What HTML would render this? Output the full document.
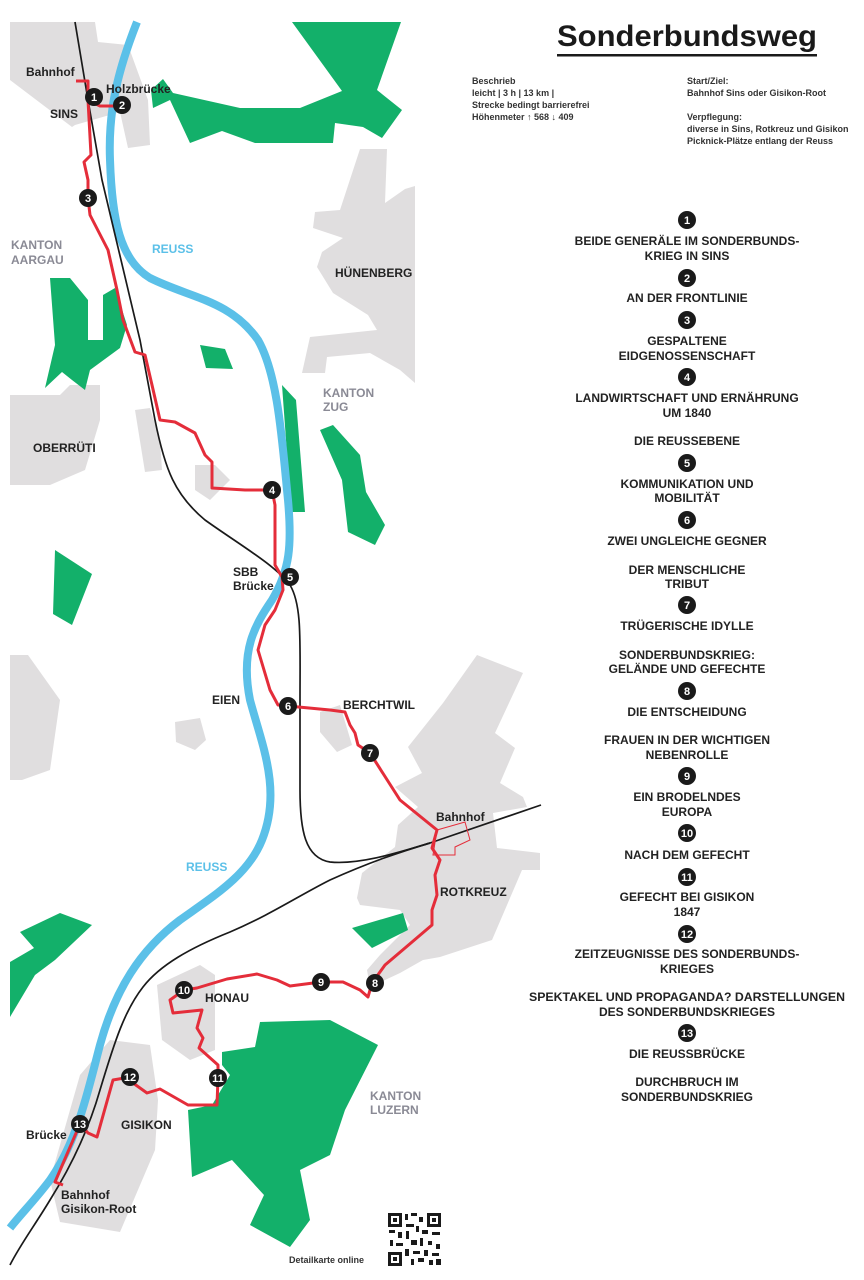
<!DOCTYPE html>
<html><head><meta charset="utf-8"><style>
html,body{margin:0;padding:0;background:#fff}
svg{display:block}
text{font-family:"Liberation Sans",sans-serif;font-weight:bold}
.lb{font-size:12px;fill:#222}
.gy{font-size:12px;fill:#8a8a95}
.bl{font-size:12px;fill:#5bc0e8}
.li{font-size:12px;fill:#222;text-anchor:middle}
.sm{font-size:9px;fill:#333}
.n{font-size:11px;fill:#fff;text-anchor:middle}
</style></head><body>
<svg width="864" height="1280" viewBox="0 0 864 1280" xmlns="http://www.w3.org/2000/svg">
<g fill="#e0dedf">
<polygon points="10,22 95,22 98,42 128,45 148,100 150,145 128,148 120,112 75,125 72,127 10,80"/>
<polygon points="360,149 387,149 385,203 405,189 415,186 415,383 400,370 370,353 327,357 325,373 302,373 310,337 377,330 368,315 333,293 317,267 322,252 343,238 313,228 315,212 340,210"/>
<polygon points="10,395 60,395 70,385 100,385 100,420 85,470 50,485 10,485"/>
<polygon points="135,410 150,408 160,440 162,470 145,472"/>
<polygon points="195,465 215,465 230,480 210,500 195,490"/>
<polygon points="10,655 28,655 60,700 50,770 22,780 10,780"/>
<polygon points="175,722 200,718 206,740 195,750 176,742"/>
<polygon points="320,712 340,705 352,745 337,752 320,732"/>
<polygon points="477,655 523,673 495,733 515,748 500,783 523,797 527,807 493,813 497,848 540,853 540,870 522,870 492,940 440,957 423,960 400,973 370,987 367,970 380,955 410,925 400,910 360,905 357,898 362,873 395,847 398,825 418,807 395,787 422,773 408,747 443,703"/>
<polygon points="157,985 200,965 215,975 215,1050 190,1060 162,1040"/>
<polygon points="80,1075 110,1040 150,1045 158,1100 155,1150 120,1232 60,1222 50,1180"/>
</g>
<g fill="#13b06a">
<polygon points="292,22 401,22 377,90 402,110 382,138 363,127 335,123 333,143 255,143 222,131 190,143 170,100 153,108 151,90 163,79 173,93 240,108 300,108 342,91"/>
<polygon points="50,278 70,278 88,300 88,340 103,340 103,295 115,288 127,325 120,348 90,370 85,390 72,380 62,372 45,388 55,345"/>
<polygon points="200,345 225,349 233,369 206,368"/>
<polygon points="282,385 296,400 305,512 290,512 286,440"/>
<polygon points="320,430 333,425 360,455 366,492 385,525 375,545 348,532 342,480"/>
<polygon points="55,550 92,574 72,625 53,614"/>
<polygon points="20,932 60,913 92,925 55,960 35,975 10,1017 10,962 34,948"/>
<polygon points="352,928 403,913 408,930 372,948"/>
<polygon points="222,1052 255,1047 260,1022 330,1020 378,1045 345,1110 330,1155 300,1170 310,1220 290,1247 250,1225 264,1195 232,1160 192,1177 188,1110 212,1105 230,1075 222,1065"/>
</g>
<path d="M137,22 C118,70 108,110 110,160 C112,220 120,260 150,278 C190,298 230,300 258,340 C278,375 282,440 288,500 C292,545 290,570 272,600 C255,625 240,650 250,700 C262,745 282,790 262,840 C248,875 215,895 180,920 C140,950 115,990 100,1045 C88,1090 78,1140 50,1180 C35,1200 20,1215 10,1228" fill="none" stroke="#5bc0e8" stroke-width="8"/>
<g fill="none" stroke="#1a1a1a" stroke-width="1.7">
<path d="M75,22 L88,100 L102,180 L140,340 L155,420 C165,470 175,495 205,520 C240,545 275,565 290,585 C302,605 300,640 300,700 L300,790 C300,830 305,858 330,862 C360,865 400,852 430,843 L541,805"/>
<path d="M430,843 C400,852 370,862 330,880 C300,895 270,915 230,932 C190,948 160,965 143,987 C125,1010 115,1040 100,1090 C90,1125 75,1160 50,1200 C35,1225 20,1245 10,1265"/>
</g>
<g fill="none" stroke="#e42d3a" stroke-width="3" stroke-linejoin="round">
<path d="M76,81 L88,81 L88,100 L100,106 L122,106"/>
<path d="M88,100 L91,155 L84,162 L88,180 L88,198 L90,215 L108,250 L117,290 L123,320 L135,352 L145,355 L152,385 L160,420 L175,422 L195,433 L205,455 L212,462 L212,488 L245,490 L272,490 L275,505 L275,565 L282,577 L283,590 L275,610 L265,625 L258,650 L270,690 L278,705 L288,706 L330,710 L345,712 L350,725 L355,733 L358,745 L370,753 L400,800 L437,830 L432,848 L440,860 L435,875 L437,895 L432,910 L432,925 L405,948 L385,965 L372,983 L368,997 L360,990 L343,982 L321,982 L290,986 L277,980 L257,974 L227,979 L197,988 L184,990 L170,1000 L173,1013 L202,1010 L197,1028 L203,1038 L199,1048 L218,1065 L218,1078 L217,1105 L188,1105 L160,1089 L147,1093 L133,1083 L130,1077 L113,1080 L97,1137 L88,1133 L80,1124 L55,1182 L63,1185"/>
</g>
<polygon points="437,830 465,822 470,840 455,847 455,855 433,855" fill="none" stroke="#e42d3a" stroke-width="1"/>
<g fill="#1a1a1a">
<circle cx="94" cy="97" r="9"/><circle cx="122" cy="105" r="9"/><circle cx="88" cy="198" r="9"/>
<circle cx="272" cy="490" r="9"/><circle cx="290" cy="577" r="9"/><circle cx="288" cy="706" r="9"/>
<circle cx="370" cy="753" r="9"/><circle cx="375" cy="983" r="9"/><circle cx="321" cy="982" r="9"/>
<circle cx="184" cy="990" r="9"/><circle cx="218" cy="1078" r="9"/><circle cx="130" cy="1077" r="9"/>
<circle cx="80" cy="1124" r="9"/>
</g>
<text class="n" x="94" y="101">1</text><text class="n" x="122" y="109">2</text><text class="n" x="88" y="202">3</text>
<text class="n" x="272" y="494">4</text><text class="n" x="290" y="581">5</text><text class="n" x="288" y="710">6</text>
<text class="n" x="370" y="757">7</text><text class="n" x="375" y="987">8</text><text class="n" x="321" y="986">9</text>
<text class="n" x="184" y="994">10</text><text class="n" x="218" y="1082">11</text><text class="n" x="130" y="1081">12</text>
<text class="n" x="80" y="1128">13</text>
<text class="lb" x="26" y="76">Bahnhof</text>
<text class="lb" x="106" y="93">Holzbrücke</text>
<text class="lb" x="50" y="118">SINS</text>
<text class="gy" x="11" y="249">KANTON</text><text class="gy" x="11" y="264">AARGAU</text>
<text class="bl" x="152" y="253">REUSS</text>
<text class="lb" x="335" y="277">HÜNENBERG</text>
<text class="gy" x="323" y="397">KANTON</text><text class="gy" x="323" y="411">ZUG</text>
<text class="lb" x="33" y="452">OBERRÜTI</text>
<text class="lb" x="233" y="576">SBB</text><text class="lb" x="233" y="590">Brücke</text>
<text class="lb" x="212" y="704">EIEN</text>
<text class="lb" x="343" y="709">BERCHTWIL</text>
<text class="lb" x="436" y="821">Bahnhof</text>
<text class="lb" x="440" y="896">ROTKREUZ</text>
<text class="bl" x="186" y="871">REUSS</text>
<text class="lb" x="205" y="1002">HONAU</text>
<text class="lb" x="121" y="1129">GISIKON</text>
<text class="lb" x="26" y="1139">Brücke</text>
<text class="lb" x="61" y="1199">Bahnhof</text><text class="lb" x="61" y="1213">Gisikon-Root</text>
<text class="gy" x="370" y="1100">KANTON</text><text class="gy" x="370" y="1114">LUZERN</text>
<text class="sm" x="289" y="1263">Detailkarte online</text>
<g fill="#1a1a1a">
<rect x="388" y="1213" width="53" height="53" fill="#fff"/>
<rect x="388" y="1213" width="14" height="14"/><rect x="391" y="1216" width="8" height="8" fill="#fff"/><rect x="393" y="1218" width="4" height="4"/>
<rect x="427" y="1213" width="14" height="14"/><rect x="430" y="1216" width="8" height="8" fill="#fff"/><rect x="432" y="1218" width="4" height="4"/>
<rect x="388" y="1252" width="14" height="14"/><rect x="391" y="1255" width="8" height="8" fill="#fff"/><rect x="393" y="1257" width="4" height="4"/>
<rect x="405" y="1214" width="3" height="6"/><rect x="411" y="1213" width="6" height="3"/><rect x="419" y="1217" width="4" height="5"/>
<rect x="406" y="1224" width="8" height="3"/><rect x="416" y="1226" width="3" height="6"/><rect x="389" y="1230" width="6" height="3"/>
<rect x="398" y="1232" width="4" height="6"/><rect x="406" y="1231" width="3" height="8"/><rect x="422" y="1230" width="6" height="4"/>
<rect x="432" y="1232" width="8" height="3"/><rect x="390" y="1240" width="3" height="6"/><rect x="396" y="1243" width="7" height="3"/>
<rect x="411" y="1240" width="6" height="5"/><rect x="420" y="1238" width="3" height="8"/><rect x="428" y="1241" width="4" height="4"/>
<rect x="436" y="1244" width="4" height="5"/><rect x="405" y="1249" width="4" height="7"/><rect x="413" y="1251" width="7" height="3"/>
<rect x="424" y="1250" width="4" height="6"/><rect x="432" y="1253" width="7" height="3"/><rect x="411" y="1259" width="3" height="6"/>
<rect x="418" y="1258" width="6" height="4"/><rect x="429" y="1260" width="4" height="5"/><rect x="436" y="1259" width="5" height="6"/>
</g>
<text x="557" y="46" style="font-size:30px;fill:#1a1a1a" textLength="260" lengthAdjust="spacingAndGlyphs">Sonderbundsweg</text>
<rect x="557" y="54" width="260" height="2.5" fill="#1a1a1a"/>
<text class="sm" x="472" y="84">Beschrieb</text>
<text class="sm" x="472" y="96">leicht | 3 h | 13 km |</text>
<text class="sm" x="472" y="108">Strecke bedingt barrierefrei</text>
<text class="sm" x="472" y="120">Höhenmeter ↑ 568 ↓ 409</text>
<text class="sm" x="687" y="84">Start/Ziel:</text>
<text class="sm" x="687" y="96">Bahnhof Sins oder Gisikon-Root</text>
<text class="sm" x="687" y="120">Verpflegung:</text>
<text class="sm" x="687" y="132">diverse in Sins, Rotkreuz und Gisikon</text>
<text class="sm" x="687" y="144">Picknick-Plätze entlang der Reuss</text>
<g fill="#1a1a1a">
<circle cx="687" cy="220" r="9"/><circle cx="687" cy="278" r="9"/><circle cx="687" cy="320" r="9"/>
<circle cx="687" cy="377" r="9"/><circle cx="687" cy="463" r="9"/><circle cx="687" cy="520" r="9"/>
<circle cx="687" cy="605" r="9"/><circle cx="687" cy="691" r="9"/><circle cx="687" cy="776" r="9"/>
<circle cx="687" cy="833" r="9"/><circle cx="687" cy="877" r="9"/><circle cx="687" cy="934" r="9"/>
<circle cx="687" cy="1033" r="9"/>
</g>
<text class="n" x="687" y="224">1</text><text class="n" x="687" y="282">2</text><text class="n" x="687" y="324">3</text>
<text class="n" x="687" y="381">4</text><text class="n" x="687" y="467">5</text><text class="n" x="687" y="524">6</text>
<text class="n" x="687" y="609">7</text><text class="n" x="687" y="695">8</text><text class="n" x="687" y="780">9</text>
<text class="n" x="687" y="837">10</text><text class="n" x="687" y="881">11</text><text class="n" x="687" y="938">12</text>
<text class="n" x="687" y="1037">13</text>
<text class="li" x="687" y="245">BEIDE GENERÄLE IM SONDERBUNDS-</text>
<text class="li" x="687" y="260">KRIEG IN SINS</text>
<text class="li" x="687" y="302">AN DER FRONTLINIE</text>
<text class="li" x="687" y="345">GESPALTENE</text>
<text class="li" x="687" y="360">EIDGENOSSENSCHAFT</text>
<text class="li" x="687" y="402">LANDWIRTSCHAFT UND ERNÄHRUNG</text>
<text class="li" x="687" y="417">UM 1840</text>
<text class="li" x="687" y="445">DIE REUSSEBENE</text>
<text class="li" x="687" y="488">KOMMUNIKATION UND</text>
<text class="li" x="687" y="502">MOBILITÄT</text>
<text class="li" x="687" y="545">ZWEI UNGLEICHE GEGNER</text>
<text class="li" x="687" y="574">DER MENSCHLICHE</text>
<text class="li" x="687" y="588">TRIBUT</text>
<text class="li" x="687" y="630">TRÜGERISCHE IDYLLE</text>
<text class="li" x="687" y="659">SONDERBUNDSKRIEG:</text>
<text class="li" x="687" y="673">GELÄNDE UND GEFECHTE</text>
<text class="li" x="687" y="716">DIE ENTSCHEIDUNG</text>
<text class="li" x="687" y="744">FRAUEN IN DER WICHTIGEN</text>
<text class="li" x="687" y="759">NEBENROLLE</text>
<text class="li" x="687" y="801">EIN BRODELNDES</text>
<text class="li" x="687" y="816">EUROPA</text>
<text class="li" x="687" y="859">NACH DEM GEFECHT</text>
<text class="li" x="687" y="901">GEFECHT BEI GISIKON</text>
<text class="li" x="687" y="916">1847</text>
<text class="li" x="687" y="958">ZEITZEUGNISSE DES SONDERBUNDS-</text>
<text class="li" x="687" y="973">KRIEGES</text>
<text class="li" x="687" y="1001" textLength="316" lengthAdjust="spacingAndGlyphs">SPEKTAKEL UND PROPAGANDA? DARSTELLUNGEN</text>
<text class="li" x="687" y="1016">DES SONDERBUNDSKRIEGES</text>
<text class="li" x="687" y="1058">DIE REUSSBRÜCKE</text>
<text class="li" x="687" y="1086">DURCHBRUCH IM</text>
<text class="li" x="687" y="1101">SONDERBUNDSKRIEG</text>
</svg>
</body></html>
